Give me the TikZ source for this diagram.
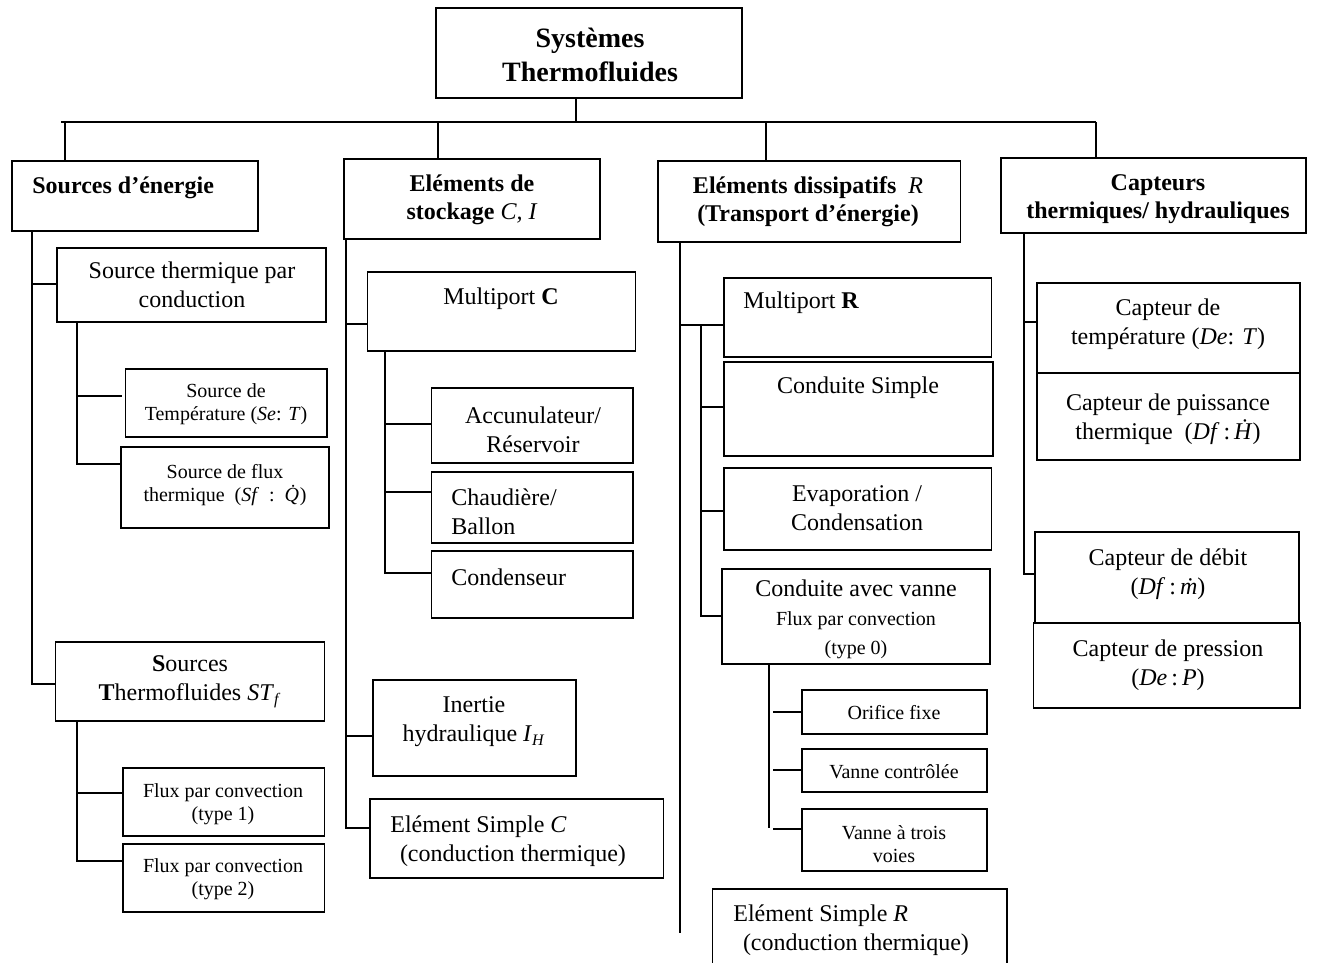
\documentclass[tikz,border=0pt]{standalone}
\usepackage{fontspec}
\setmainfont{Liberation Serif}
\usetikzlibrary{fit,calc}
\newcommand{\dotc}[1]{\textit{#1^^^^0307}}
\begin{document}
\begin{tikzpicture}[x=0.5pt,y=-0.5pt,
  bx/.style={draw, line width=0.9pt, inner sep=0pt, outer sep=0pt},
  ln/.style={line width=1pt},
  tx/.style={font=\fontsize{12}{14.5}\selectfont, align=center, inner sep=0pt},
  sm/.style={font=\fontsize{10}{11.5}\selectfont, align=center, inner sep=0pt},
  hd/.style={font=\fontsize{12}{14}\selectfont\bfseries, align=center, inner sep=0pt},
  ttl/.style={font=\fontsize{14}{17}\selectfont\bfseries, align=center, inner sep=0pt}]
\clip (0,0) rectangle (1318,963);
\fill[white] (0,0) rectangle (1318,963);

% boxes
\node[bx, fit={(435.6,8.3)(741.8,98.3)}] (top) {};
\node[bx, fit={(11.8,161)(258,230.7)}] (src) {};
\node[bx, fit={(343.9,158.7)(599.7,239.3)}] (sto) {};
\node[bx, fit={(657.8,161)(960.5,242)}] (dis) {};
\node[bx, fit={(1000.7,157.7)(1306.2,233.3)}] (cap) {};
\node[bx, fit={(56.8,248)(326.2,322.3)}] (stc) {};
\node[bx, fit={(125.4,369.3)(327,437.3)}] (stt) {};
\node[bx, fit={(121.2,446.7)(328.7,527.7)}] (sfq) {};
\node[bx, fit={(367.4,272)(635.5,350.7)}] (mpc) {};
\node[bx, fit={(431.4,388.3)(632.6,463.3)}] (acc) {};
\node[bx, fit={(431.4,471.7)(632.6,542.7)}] (cha) {};
\node[bx, fit={(431.4,551)(632.6,618.3)}] (con) {};
\node[bx, fit={(55.5,641.7)(324.4,720.7)}] (stf) {};
\node[bx, fit={(122.7,768.3)(324.4,836)}] (fl1) {};
\node[bx, fit={(122.7,843.7)(324.4,911.7)}] (fl2) {};
\node[bx, fit={(373,680)(575.9,776)}] (ine) {};
\node[bx, fit={(369.9,799)(663.5,877.7)}] (esc) {};
\node[bx, fit={(724.2,277.7)(991.5,356.7)}] (mpr) {};
\node[bx, fit={(724.2,362.3)(992.8,456)}] (cs) {};
\node[bx, fit={(724.2,467.7)(991.5,550)}] (eva) {};
\node[bx, fit={(721.7,569.3)(990.3,664.3)}] (cav) {};
\node[bx, fit={(801.8,690)(987.3,734)}] (orf) {};
\node[bx, fit={(801.8,749)(987.3,792.3)}] (vco) {};
\node[bx, fit={(801.8,809)(987.3,871)}] (vtv) {};
\node[bx, fit={(712.4,889)(1006.7,985)}] (esr) {};
\node[bx, fit={(1036.8,283.3)(1300,373.3)}] (cte) {};
\node[bx, fit={(1036.8,373.3)(1300,460)}] (cpu) {};
\node[bx, fit={(1034.7,531.7)(1299,622.7)}] (cdb) {};
\node[bx, fit={(1033.5,622.7)(1300,708.3)}] (cpr) {};

% texts
\node[ttl] (ttop) at (590,55) {Systèmes\\Thermofluides};
\node[hd, anchor=west] (tsrc) at (32,188) {Sources d’énergie};
\node[hd] (tsto) at (472,200) {Eléments de\\stockage \textit{\mdseries C, I}};
\node[hd] (tdis) at (808,202) {Eléments dissipatifs\enspace\textit{\mdseries R}\\(Transport d’énergie)};
\node[hd] (tcap) at (1158,199) {Capteurs\\thermiques/ hydrauliques};
\node[tx] (tstc) at (192,285) {Source thermique par\\conduction};
\node[sm] (tstt) at (226,404) {Source de\\Température (\textit{Se}: \textit{T})};
\node[sm] (tsfq) at (225,485) {Source de flux\\thermique\enspace(\textit{Sf}\enspace:\enspace\dotc{Q}\kern-0.25em)};
\node[tx] (tmpc) at (501,299) {Multiport \textbf{C}};
\node[tx] (tacc) at (533,430) {Accunulateur/\\Réservoir};
\node[tx, anchor=west, align=left] (tcha) at (451,512) {Chaudière/\\Ballon};
\node[tx, anchor=west] (tcon) at (451,577) {Condenseur};
\node[tx] (tine) at (474,722) {Inertie\\hydraulique \textit{I}\textsubscript{\textit{H}}};
\node[tx, anchor=west, align=left] (tesc) at (390,841) {Elément Simple \textit{C}\\\hspace{0.4em}(conduction thermique)};
\node[tx] (tstf) at (190,682) {\textbf{S}ources\\\textbf{T}hermofluides \textit{ST}\textsubscript{\textit{f}}};
\node[sm] (tfl1) at (223,804) {Flux par convection\\(type 1)};
\node[sm] (tfl2) at (223,879) {Flux par convection\\(type 2)};
\node[tx, anchor=west] (tmpr) at (743,303) {Multiport \textbf{R}};
\node[tx] (tcs) at (858,388) {Conduite Simple};
\node[tx] (teva) at (857,508) {Evaporation /\\Condensation};
\node[tx] (tcav) at (856,619) {Conduite avec vanne\\{\fontsize{10}{11.5}\selectfont Flux par convection}\\{\fontsize{10}{11.5}\selectfont (type 0)}};
\node[sm] (torf) at (894,713) {Orifice fixe};
\node[sm] (tvco) at (894,772) {Vanne contrôlée};
\node[sm] (tvtv) at (894,844) {Vanne à trois\\voies};
\node[tx, anchor=west, align=left] (tesr) at (733,930) {Elément Simple \textit{R}\\\hspace{0.4em}(conduction thermique)};
\node[tx] (tcte) at (1168,324) {Capteur de\\température (\textit{De}: \textit{T})};
\node[tx] (tcpu) at (1168,419) {Capteur de puissance\\thermique\enspace(\textit{Df}\,:\,\dotc{H})};
\node[tx] (tcdb) at (1168,574) {Capteur de débit\\(\textit{Df}\,:\,\dotc{m})};
\node[tx] (tcpr) at (1168,665) {Capteur de pression\\(\textit{De}\,:\,\textit{P})};

% connectors: top level
\draw[ln] (top.south -| 575.8,0) -- (575.8,122.5);
\draw[ln] (61,122.5) -- (1096.4,122.5);
\draw[ln] (65,122.5) -- (src.north -| 65,0);
\draw[ln] (437.7,122.5) -- (sto.north -| 437.7,0);
\draw[ln] (765.7,122.5) -- (dis.north -| 765.7,0);
\draw[ln] (1096.4,122.5) -- (cap.north -| 1096.4,0);

% sources
\draw[ln] (src.south -| 31.6,0) -- (31.6,684.3) -- (stf.west |- 0,684.3);
\draw[ln] (31.6,284.3) -- (stc.west |- 0,284.3);
\draw[ln] (stc.south -| 76.6,0) -- (76.6,464.3) -- (sfq.west |- 0,464.3);
\draw[ln] (76.6,395.7) -- (122,395.7);
\draw[ln] (stf.south -| 77.2,0) -- (77.2,860.7) -- (fl2.west |- 0,860.7);
\draw[ln] (77.2,792.7) -- (fl1.west |- 0,792.7);

% stockage
\draw[ln] (sto.south -| 346,0) -- (346,827.7) -- (esc.west |- 0,827.7);
\draw[ln] (346,324.3) -- (mpc.west |- 0,324.3);
\draw[ln] (346,736) -- (ine.west |- 0,736);
\draw[ln] (mpc.south -| 385.1,0) -- (385.1,572.7) -- (con.west |- 0,572.7);
\draw[ln] (385.1,424) -- (acc.west |- 0,424);
\draw[ln] (385.1,492.3) -- (cha.west |- 0,492.3);

% dissipatifs
\draw[ln] (dis.south -| 680,0) -- (680,933);
\draw[ln] (680,325) -- (mpr.west |- 0,325);
\draw[ln] (701,325) -- (701,615.7) -- (cav.west |- 0,615.7);
\draw[ln] (701,406.7) -- (cs.west |- 0,406.7);
\draw[ln] (701,510.7) -- (eva.west |- 0,510.7);
\draw[ln] (cav.south -| 769.1,0) -- (769.1,828.3);
\draw[ln] (773,711.7) -- (orf.west |- 0,711.7);
\draw[ln] (773,770) -- (vco.west |- 0,770);
\draw[ln] (773,829) -- (vtv.west |- 0,829);

% capteurs
\draw[ln] (cap.south -| 1024.2,0) -- (1024.2,574) -- (cdb.west |- 0,574);
\draw[ln] (1024.2,322.3) -- (cte.west |- 0,322.3);
\end{tikzpicture}
\end{document}
